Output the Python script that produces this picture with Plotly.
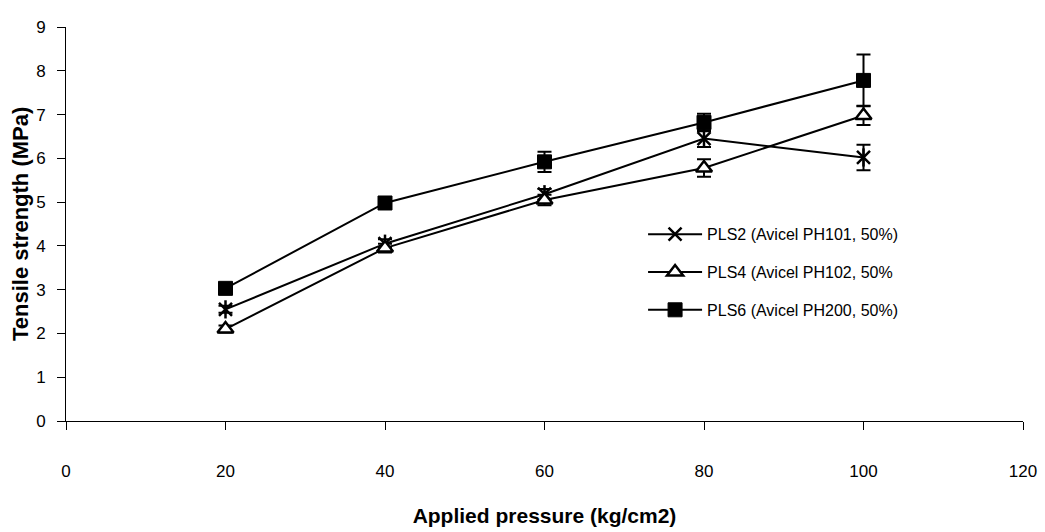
import plotly.graph_objects as go

pressure = [20, 40, 60, 80, 100]
pls2 = [2.55, 4.05, 5.18, 6.45, 6.02]
pls2_err = [0.08, 0.1, 0.12, 0.19, 0.29]
pls4 = [2.1, 3.95, 5.05, 5.78, 6.98]
pls4_err = [0.08, 0.1, 0.12, 0.2, 0.22]
pls6 = [3.03, 4.98, 5.92, 6.82, 7.78]
pls6_err = [0.08, 0.06, 0.23, 0.2, 0.59]

names = ["PLS2 (Avicel PH101, 50%)", "PLS4 (Avicel PH102, 50%", "PLS6 (Avicel PH200, 50%)"]

tick_font = dict(family="Liberation Sans, Arial, sans-serif", size=17, color="black")
title_font = dict(family="Liberation Sans, Arial, sans-serif", size=21, color="black")

def err(e):
    return dict(type="data", array=e, visible=True, color="black", thickness=2, width=7)

fig = go.Figure()
fig.add_trace(go.Scatter(
    x=pressure, y=pls2, name=names[0], mode="lines+markers", legendgroup="a",
    line=dict(color="black", width=2),
    marker=dict(symbol="x-thin-open", size=13, color="black", line=dict(color="black", width=2.5)),
    error_y=err(pls2_err)))
fig.add_trace(go.Scatter(
    x=pressure, y=pls2, name=names[0], mode="markers", showlegend=False, legendgroup="a",
    marker=dict(symbol="line-ns-open", size=13, color="black", line=dict(color="black", width=2.5)),
    hoverinfo="skip"))
fig.add_trace(go.Scatter(
    x=pressure, y=pls4, name=names[1], mode="lines+markers", legendgroup="b",
    line=dict(color="black", width=2),
    marker=dict(symbol="triangle-up", size=14, color="white", line=dict(color="black", width=2.5)),
    error_y=err(pls4_err)))
fig.add_trace(go.Scatter(
    x=pressure, y=pls6, name=names[2], mode="lines+markers", legendgroup="c",
    line=dict(color="black", width=2),
    marker=dict(symbol="square", size=14, color="black", line=dict(color="black", width=1)),
    error_y=err(pls6_err)))

fig.update_layout(
    width=1045, height=532,
    margin=dict(l=66, r=22, t=27, b=111),
    plot_bgcolor="white", paper_bgcolor="white",
    showlegend=True,
    legend=dict(x=0.603, y=0.517, xanchor="left", yanchor="top",
                font=dict(family="Liberation Sans, Arial, sans-serif", size=16, color="black"),
                bgcolor="rgba(0,0,0,0)", tracegroupgap=14, traceorder="grouped",
                itemwidth=54),
    xaxis=dict(range=[0, 120], tickvals=[0, 20, 40, 60, 80, 100, 120],
               showline=True, linecolor="black", linewidth=1, showgrid=False, zeroline=False,
               ticks="outside", ticklen=8, tickcolor="black", tickfont=tick_font,
               ticklabelstandoff=27, automargin=False,
               title=dict(text="<b>Applied pressure (kg/cm2)</b>", font=title_font, standoff=27)),
    yaxis=dict(range=[0, 9], tickvals=list(range(10)),
               showline=True, linecolor="black", linewidth=1, showgrid=False, zeroline=False,
               ticks="outside", ticklen=8, tickcolor="black", tickfont=tick_font,
               ticklabelstandoff=8, automargin=False),
    annotations=[dict(text="<b>Tensile strength (MPa)</b>", textangle=-90,
                      font=dict(family="Liberation Sans, Arial, sans-serif", size=22, color="black"),
                      xref="paper", yref="paper", x=0, y=0.5, xanchor="center", yanchor="middle",
                      xshift=-46, yshift=0, showarrow=False)],
)

fig.write_html("out.html", config={"displayModeBar": False},
               post_script="document.body.style.margin='0px';")
